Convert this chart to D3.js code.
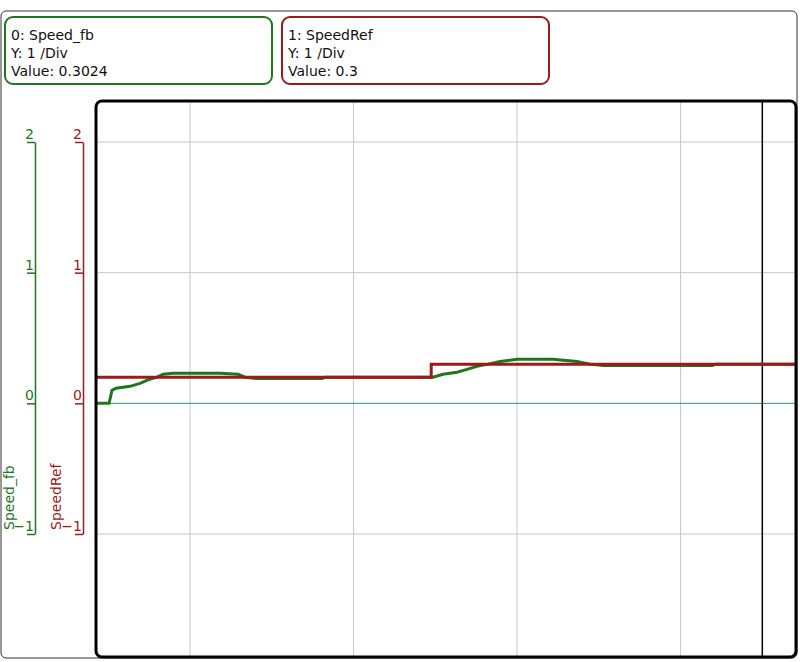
<!DOCTYPE html>
<html><head><meta charset="utf-8">
<script src="https://cdn.jsdelivr.net/npm/d3@7"></script>
<style>body{margin:0;background:#fff;}svg{display:block;}</style>
</head><body><svg id="c" width="800" height="662"></svg>
<script>
// ---- data ----
const yTicks = [-1, 0, 1, 2];
const gridTimes = [0, 1, 2, 3];
const cursorTime = 3.5;
const timeDomain = [-0.575, 3.706];
const refTimes = [-0.575, 1.475, 3.706];
const refValues = [0.2, 0.3, 0.3];
const fbTimes = [-0.575, -0.495, -0.477, -0.453, -0.367, -0.306, -0.257, -0.202, -0.165, -0.104, 0.183, 0.294, 0.336, 0.41, 0.807, 0.83, 1.486, 1.547, 1.633, 1.694, 1.755, 1.823, 1.896, 2.0, 2.22, 2.367, 2.446, 2.526, 3.193, 3.217, 3.706];
const fbValues = [0, 0, 0.10, 0.115, 0.13, 0.153, 0.18, 0.2, 0.222, 0.23, 0.23, 0.222, 0.2, 0.19, 0.19, 0.2, 0.2, 0.222, 0.238, 0.26, 0.284, 0.3, 0.32, 0.337, 0.337, 0.32, 0.3, 0.29, 0.29, 0.3, 0.3];
const legendLines = [
  ["0: Speed_fb", "Y: 1 /Div", "Value: 0.3024"],
  ["1: SpeedRef", "Y: 1 /Div", "Value: 0.3"]
];
const axisTitles = ["Speed_fb", "SpeedRef"];

const GREEN = "#1f761f", RED = "#9c1a1a";
const FONT = "'DejaVu Sans',sans-serif";
const svg = d3.select("#c");

const x = d3.scaleLinear().domain(timeDomain).range([96, 796]);
const y = d3.scaleLinear().domain([-1, 2]).range([534, 142]);

// outer frame
svg.append("rect").attr("x", 1).attr("y", 11).attr("width", 796).attr("height", 647)
  .attr("rx", 5).attr("fill", "none").attr("stroke", "#333").attr("stroke-width", 1);

// legend boxes
const lgColors = [GREEN, RED];
const lgX = [5, 282];
legendLines.forEach((lines, i) => {
  const g = svg.append("g").attr("transform", `translate(${lgX[i]},17)`);
  g.append("rect").attr("width", 267).attr("height", 67).attr("rx", 8)
    .attr("fill", "#fff").attr("stroke", lgColors[i]).attr("stroke-width", 2);
  lines.forEach((t, j) => {
    g.append("text").attr("x", 6).attr("y", 23 + j * 18).text(t)
      .attr("font-family", FONT).attr("font-size", 14).attr("fill", "#111");
  });
});

// plot area
svg.append("defs").append("clipPath").attr("id", "clip").append("rect")
  .attr("x", 96).attr("y", 101).attr("width", 700).attr("height", 556);

const plot = svg.append("g").attr("clip-path", "url(#clip)");
// grid
plot.selectAll(".hg").data(yTicks.filter(d => d !== 0)).enter().append("line")
  .attr("x1", 96).attr("x2", 796).attr("y1", d => y(d)).attr("y2", d => y(d))
  .attr("stroke", "#c8c8c8").attr("stroke-width", 1);
plot.selectAll(".vg").data(gridTimes).enter().append("line")
  .attr("y1", 101).attr("y2", 657).attr("x1", d => x(d)).attr("x2", d => x(d))
  .attr("stroke", "#c8c8c8").attr("stroke-width", 1);
// zero line
plot.append("line").attr("x1", 96).attr("x2", 796).attr("y1", y(0)).attr("y2", y(0))
  .attr("stroke", "#2f8f8f").attr("stroke-width", 1);
// cursor
plot.append("line").attr("y1", 101).attr("y2", 657).attr("x1", x(cursorTime)).attr("x2", x(cursorTime))
  .attr("stroke", "#000").attr("stroke-width", 1.5);

// series
const fbData = fbTimes.map((t, i) => [t, fbValues[i]]);
const refData = refTimes.map((t, i) => [t, refValues[i]]);
plot.append("path").datum(fbData)
  .attr("d", d3.line().x(d => x(d[0])).y(d => y(d[1])))
  .attr("fill", "none").attr("stroke", GREEN).attr("stroke-width", 3);
plot.append("path").datum(refData)
  .attr("d", d3.line().x(d => x(d[0])).y(d => y(d[1])).curve(d3.curveStepAfter))
  .attr("fill", "none").attr("stroke", RED).attr("stroke-width", 3);

// plot frame
svg.append("rect").attr("x", 96).attr("y", 101).attr("width", 700).attr("height", 556)
  .attr("rx", 6).attr("fill", "none").attr("stroke", "#000").attr("stroke-width", 3);

// axes
const axX = [35, 83];
const titleX = [14, 61];
axX.forEach((ax, i) => {
  const g = svg.append("g").attr("transform", `translate(${ax},0)`)
    .call(d3.axisLeft(y).tickValues(yTicks).tickFormat(d3.format("d")).tickSize(8).tickSizeOuter(0));
  g.select(".domain").attr("stroke", lgColors[i]).attr("stroke-width", 1.5);
  g.selectAll(".tick line").attr("stroke", lgColors[i]).attr("stroke-width", 1.5);
  g.selectAll(".tick text").attr("x", -1).attr("dy", "-0.25em").attr("fill", lgColors[i])
    .attr("font-family", FONT).attr("font-size", 14).attr("text-anchor", "end");
  svg.append("text").attr("transform", `translate(${titleX[i]},530) rotate(-90)`)
    .text(axisTitles[i]).attr("font-family", FONT).attr("font-size", 14).attr("fill", lgColors[i]);
});
</script></body></html>
